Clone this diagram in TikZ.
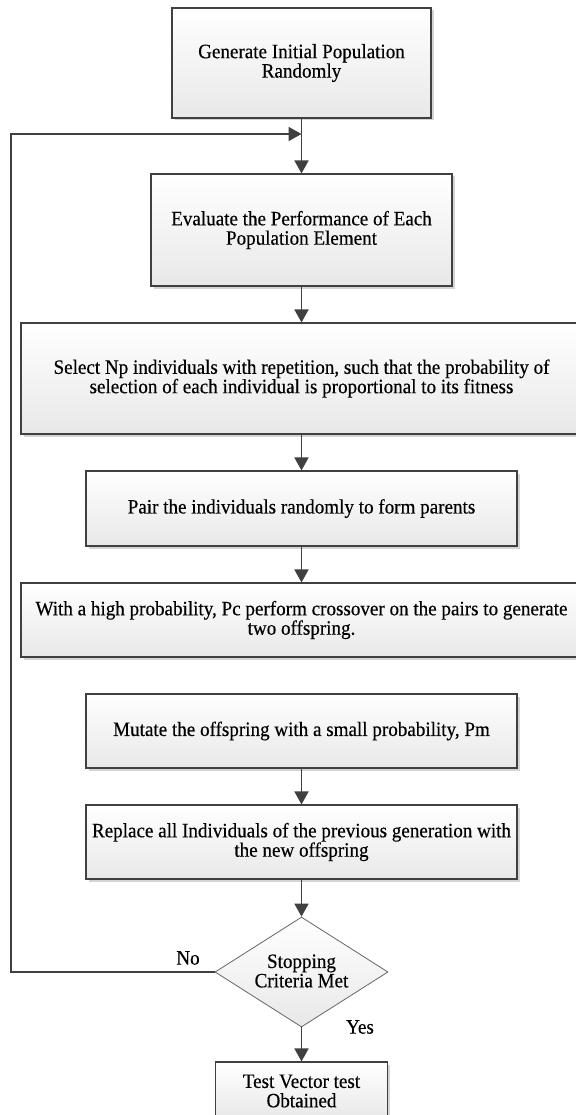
\documentclass[tikz,border=0pt]{standalone}
\usepackage{fontspec}
\setmainfont[FakeStretch=0.935,FakeBold=0.35]{Liberation Serif}
\usetikzlibrary{arrows.meta,shapes.geometric,shadows}
\begin{document}
\begin{tikzpicture}[x=1pt,y=-1pt,
  every node/.style={font=\fontsize{20.4}{19.4}\selectfont, align=center, inner sep=0pt, text=black},
  procbox/.style={rectangle, draw=black!75, line width=1.1pt, top color=white, bottom color=black!9,
    drop shadow={shadow xshift=2.5pt, shadow yshift=-2.5pt, fill=black!17, opacity=1}},
  decision/.style={diamond, draw=black!60, line width=0.8pt, top color=white, bottom color=black!9},
  conn/.style={draw=black!75, line width=1.8pt, -{Triangle[length=13pt,width=14pt]}},
  lbl/.style={fill=none}
]
\fill[white] (0,0) rectangle (575,1115);
\useasboundingbox (0,0) rectangle (575,1115);

\node[procbox, minimum width=259pt, minimum height=110pt] (b1) at (301.5,63) {Generate Initial Population\\Randomly};
\node[procbox, minimum width=301pt, minimum height=112pt] (b2) at (301.5,230) {Evaluate the Performance of Each\\Population Element};
\node[procbox, minimum width=561pt, minimum height=111pt] (b3) at (301.5,378.5) {Select Np individuals with repetition, such that the probability of\\selection of each individual is proportional to its fitness};
\node[procbox, minimum width=431pt, minimum height=75pt] (b4) at (301.5,508.5) {Pair the individuals randomly to form parents};
\node[procbox, minimum width=561pt, minimum height=74pt] (b5) at (301.5,620) {With a high probability, Pc perform crossover on the pairs to generate\\two offspring.};
\node[procbox, minimum width=431pt, minimum height=74pt] (b6) at (301.5,731) {Mutate the offspring with a small probability, Pm};
\node[procbox, minimum width=431pt, minimum height=74pt] (b7) at (301.5,842) {Replace all Individuals of the previous generation with\\the new offspring};
\node[decision, minimum width=173pt, minimum height=110pt] (d) at (301.5,972) {};
\node (dt) at (301.5,971) {Stopping\\Criteria Met};
\node[procbox, minimum width=172pt, minimum height=58pt] (b8) at (301.5,1091) {Test Vector test\\Obtained};

\node[lbl] (no) at (188,958) {No};
\node[lbl] (yes) at (360,1027) {Yes};

\coordinate (fl) at (11,972);
\coordinate (ft) at (11,134);
\coordinate (fm) at (301.5,134);

\draw[conn] (b1) -- (b2);
\draw[conn] (b2) -- (b3);
\draw[conn] (b3) -- (b4);
\draw[conn] (b4) -- (b5);
\draw[conn] (b6) -- (b7);
\draw[conn] (b7) -- (d);
\draw[conn] (d) -- (b8);
\draw[conn] (d.west) -- (fl) -- (ft) -- (fm);
\end{tikzpicture}
\end{document}
